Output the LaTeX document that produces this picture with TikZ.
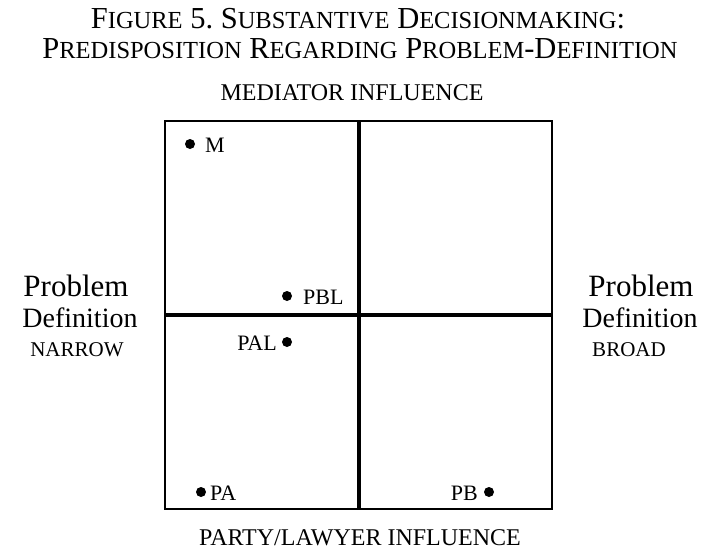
\documentclass[tikz,border=0pt]{standalone}
\usepackage{fontspec}
\setmainfont{Liberation Serif}
% faked small capitals: lower-case letters given as smaller capitals
\newcommand\smc[1]{{\fontsize{24.5}{24.5}\selectfont #1}}
\begin{document}
\begin{tikzpicture}[x=1pt,y=-1pt,
  title/.style={inner sep=0pt,anchor=base,font=\fontsize{30.5}{30.5}\selectfont},
  axislabel/.style={inner sep=0pt,anchor=base,font=\fontsize{24}{24}\selectfont},
  sidelabel/.style={inner sep=0pt,anchor=base,font=\fontsize{21}{21}\selectfont},
  sideword/.style={inner sep=0pt,anchor=base,font=\fontsize{31}{31}\selectfont},
  sidedef/.style={inner sep=0pt,anchor=base,font=\fontsize{28}{28}\selectfont},
  dot/.style={circle,fill=black,inner sep=0pt,minimum size=10pt},
  ptlabel/.style={inner sep=0pt,font=\fontsize{22}{22}\selectfont},
  frame/.style={draw=black,line width=1.6pt},
  divider/.style={draw=black,line width=4.8pt}]
\useasboundingbox (0,0) rectangle (713,552);

% heading
\node[title] (t1) at (358,28) {F\smc{IGURE} 5.\ S\smc{UBSTANTIVE} D\smc{ECISIONMAKING}:};
\node[title] (t2) at (360,58) {P\smc{REDISPOSITION} R\smc{EGARDING} P\smc{ROBLEM}-D\smc{EFINITION}};

% axis labels
\node[axislabel] (top) at (352,100) {MEDIATOR INFLUENCE};
\node[axislabel] (bottom) at (360,545) {PARTY/LAWYER INFLUENCE};

\node[sideword] (l1) at (76,296) {Problem};
\node[sidedef] (l2) at (80,327) {Definition};
\node[sidelabel] (l3) at (77,356) {NARROW};

\node[sideword] (r1) at (641,296) {Problem};
\node[sidedef] (r2) at (640,327) {Definition};
\node[sidelabel] (r3) at (629,356) {BROAD};

% quadrant grid
\coordinate (nw) at (165,121);
\coordinate (se) at (552,509);
\draw[frame] (nw) rectangle (se);
\coordinate (vt) at (359,121);
\coordinate (vb) at (359,509);
\coordinate (hl) at (165,315);
\coordinate (hr) at (552,315);
\draw[divider] (vt) -- (vb);
\draw[divider] (hl) -- (hr);

% positions
\node[dot] (m) at (190,144) {};
\node[ptlabel,anchor=west] (mL) at (205,145) {M};

\node[dot] (pbl) at (287,296) {};
\node[ptlabel,anchor=west] (pblL) at (303,297) {PBL};

\node[dot] (pal) at (287,342) {};
\node[ptlabel,anchor=east] (palL) at (277,343) {PAL};

\node[dot] (pa) at (201,492) {};
\node[ptlabel,anchor=west] (paL) at (210,493) {PA};

\node[dot] (pb) at (489,492) {};
\node[ptlabel,anchor=east] (pbL) at (478,493) {PB};
\end{tikzpicture}
\end{document}
